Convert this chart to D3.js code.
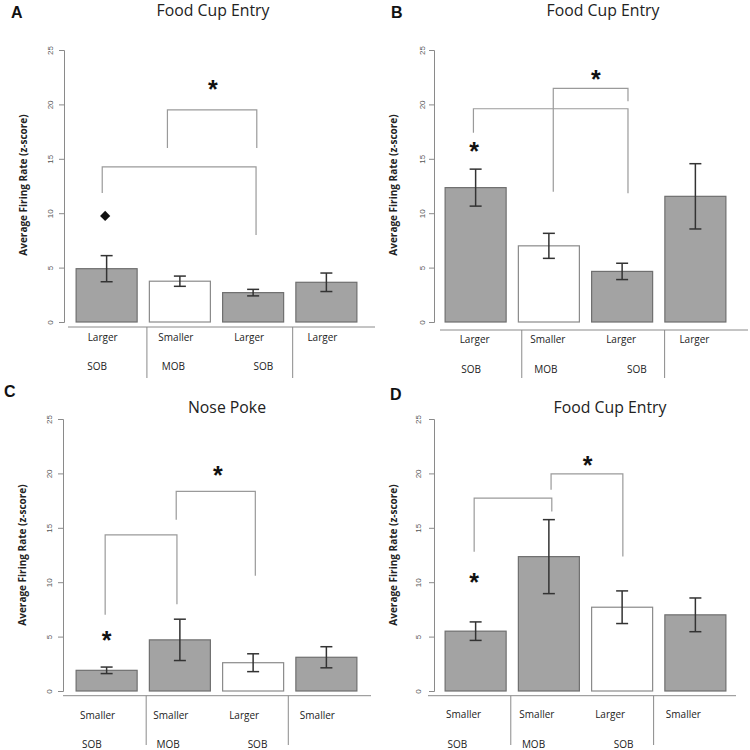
<!DOCTYPE html>
<html><head><meta charset="utf-8">
<script src="https://cdn.jsdelivr.net/npm/d3@7"></script>
<style>html,body{margin:0;padding:0;background:#fff;}</style>
</head><body><svg id="chart" width="750" height="750"></svg>
<script>
// ---------- data ----------
const panelLetters = ["A", "B", "C", "D"];
const titles = ["Food Cup Entry", "Food Cup Entry", "Nose Poke", "Food Cup Entry"];
const sizeLabelsA = ["Larger", "Smaller", "Larger", "Larger"];
const sizeLabelsB = ["Larger", "Smaller", "Larger", "Larger"];
const sizeLabelsC = ["Smaller", "Smaller", "Larger", "Smaller"];
const sizeLabelsD = ["Smaller", "Smaller", "Larger", "Smaller"];
const groupLabels = ["SOB", "MOB", "SOB"];
const meansA = [4.9, 3.75, 2.7, 3.65];
const errA   = [1.2, 0.47, 0.3, 0.85];
const meansB = [12.35, 7.0, 4.65, 11.55];
const errB   = [1.7, 1.15, 0.75, 3.0];
const meansC = [1.9, 4.7, 2.6, 3.1];
const errC   = [0.3, 1.9, 0.82, 0.97];
const meansD = [5.5, 12.35, 7.7, 7.0];
const errD   = [0.85, 3.4, 1.5, 1.55];
const whiteBar = [1, 1, 2, 2];        // index of the open (white) bar in each panel
const yTicks = [0, 5, 10, 15, 20, 25];
// brackets: [fromCat, toCat, topValue, leftEndValue, rightEndValue]
const bracketsA = [[0.83, 2.05, 19.5, 16.0, 16.0], [-0.06, 2.04, 14.25, 11.85, 8.0]];
const bracketsB = [[1.06, 2.08, 21.48, 11.98, 20.3], [-0.03, 2.08, 19.6, 17.4, 11.83]];
const bracketsC = [[0.95, 2.03, 18.34, 15.73, 10.6], [-0.02, 0.96, 14.35, 7.0, 7.98]];
const bracketsD = [[1.03, 2.01, 19.96, 18.5, 12.36], [-0.02, 1.04, 17.73, 12.8, 16.5]];
// significance markers: [category, value]
const starsA = [[1.45, 21.6]];
const starsB = [[1.64, 22.5], [-0.02, 15.9]];
const starsC = [[1.52, 20.05], [0.0, 4.85]];
const starsD = [[1.53, 20.97], [-0.02, 10.2]];
const diamondsA = [[-0.02, 9.75]];
const diamondsB = [], diamondsC = [], diamondsD = [];

// ---------- layout ----------
const layout = [
  {ax: 64,  y0: 322, y25: 50,  bx0: 70,  bx1: 363, xAxisY: 327, xAxisX0: 68,  xAxisX1: 375, divEnd: 378,
   dividers: [0.55, 2.54], lblShift: -4, lblY: 341, grpPos: [-0.13, 0.91, 2.14], grpY: 370,
   tickX: 50, ylabX: 23, ylabY: 185, titleX: 213, titleY: 16, letX: 11, letY: 18},
  {ax: 434, y0: 322, y25: 50,  bx0: 439, bx1: 732, xAxisY: 330, xAxisX0: 440, xAxisX1: 748, divEnd: 378,
   dividers: [0.63, 2.58], lblShift: -1, lblY: 343, grpPos: [-0.06, 0.96, 2.2], grpY: 373,
   tickX: 422, ylabX: 393, ylabY: 185, titleX: 603, titleY: 16, letX: 391, letY: 18},
  {ax: 63,  y0: 691, y25: 419, bx0: 70,  bx1: 363, xAxisY: 695.7, xAxisX0: 63, xAxisX1: 371, divEnd: 745,
   dividers: [0.54, 2.48], lblShift: -9, lblY: 719, grpPos: [-0.2, 0.84, 2.06], grpY: 748,
   tickX: 49, ylabX: 22, ylabY: 555, titleX: 227, titleY: 413, letX: 4, letY: 397},
  {ax: 434, y0: 691, y25: 419, bx0: 439, bx1: 732, xAxisY: 695.7, xAxisX0: 428, xAxisX1: 736, divEnd: 745,
   dividers: [0.48, 2.43], lblShift: -12, lblY: 718, grpPos: [-0.25, 0.79, 2.02], grpY: 748,
   tickX: 418, ylabX: 393, ylabY: 555, titleX: 610, titleY: 413, letX: 390, letY: 400}
];

const panels = [
  {means: meansA, err: errA, labels: sizeLabelsA, brackets: bracketsA, stars: starsA, diamonds: diamondsA},
  {means: meansB, err: errB, labels: sizeLabelsB, brackets: bracketsB, stars: starsB, diamonds: diamondsB},
  {means: meansC, err: errC, labels: sizeLabelsC, brackets: bracketsC, stars: starsC, diamonds: diamondsC},
  {means: meansD, err: errD, labels: sizeLabelsD, brackets: bracketsD, stars: starsD, diamonds: diamondsD}
];

const svg = d3.select("#chart");
const FONT = "'Open Sans', sans-serif";
const BAR_FILL = "#a3a3a3", BAR_STROKE = "#6f6f6f";
const AXIS_COL = "#8a8a8a", BRACKET_COL = "#9a9a9a";

panels.forEach((p, pi) => {
  const L = layout[pi];
  const g = svg.append("g");
  const idx = d3.range(p.means.length);
  const x = d3.scaleBand().domain(idx).range([L.bx0, L.bx1]).paddingInner(0.167).paddingOuter(0.0835);
  const y = d3.scaleLinear().domain([0, 25]).range([L.y0, L.y25]);
  const c0 = x(0) + x.bandwidth() / 2, c3 = x(3) + x.bandwidth() / 2;
  const xc = d3.scaleLinear().domain([0, 3]).range([c0, c3]);

  // panel letter & title
  g.append("text").attr("x", L.letX).attr("y", L.letY).text(panelLetters[pi])
    .attr("font-family", "'Liberation Sans', Arial, sans-serif").attr("font-weight", "bold")
    .attr("font-size", 16).attr("fill", "#111");
  g.append("text").attr("x", L.titleX).attr("y", L.titleY).text(titles[pi])
    .attr("text-anchor", "middle").attr("font-family", FONT).attr("font-size", 15.8).attr("fill", "#222");

  // y axis (R style)
  const yAxis = d3.axisLeft(y).tickValues(yTicks).tickSize(5).tickPadding(3).tickFormat(d3.format("d"));
  const ya = g.append("g").attr("transform", `translate(${L.ax},0)`).call(yAxis);
  ya.select(".domain").attr("stroke", AXIS_COL);
  ya.selectAll(".tick line").attr("stroke", AXIS_COL);
  ya.selectAll(".tick text").remove();
  ya.selectAll(".tick").append("text")
    .attr("transform", `translate(${L.tickX - L.ax},0) rotate(-90)`)
    .attr("text-anchor", "middle").attr("dy", "0.35em")
    .attr("font-family", "'Liberation Sans', Arial, sans-serif").attr("font-size", 8).attr("fill", "#555")
    .text(d => d);

  g.append("text").attr("transform", `translate(${L.ylabX},${L.ylabY}) rotate(-90)`)
    .attr("text-anchor", "middle").attr("dy", "0.35em")
    .attr("font-family", FONT).attr("font-weight", "bold").attr("font-size", 10).attr("fill", "#222")
    .text("Average Firing Rate (z-score)");

  // bars
  g.selectAll("rect.bar").data(idx).join("rect").attr("class", "bar")
    .attr("x", i => x(i)).attr("width", x.bandwidth())
    .attr("y", i => y(p.means[i])).attr("height", i => y(0) - y(p.means[i]))
    .attr("fill", i => i === whiteBar[pi] ? "#fff" : BAR_FILL)
    .attr("stroke", i => i === whiteBar[pi] ? "#8a8a8a" : BAR_STROKE).attr("stroke-width", 1.2);

  // error bars
  const eb = g.selectAll("g.eb").data(idx).join("g").attr("class", "eb")
    .attr("stroke", "#333").attr("stroke-width", 1.5);
  const cx = i => x(i) + x.bandwidth() / 2;
  eb.append("line").attr("x1", cx).attr("x2", cx)
    .attr("y1", i => y(p.means[i] + p.err[i])).attr("y2", i => y(p.means[i] - p.err[i]));
  eb.append("line").attr("x1", i => cx(i) - 6).attr("x2", i => cx(i) + 6)
    .attr("y1", i => y(p.means[i] + p.err[i])).attr("y2", i => y(p.means[i] + p.err[i]));
  eb.append("line").attr("x1", i => cx(i) - 6).attr("x2", i => cx(i) + 6)
    .attr("y1", i => y(p.means[i] - p.err[i])).attr("y2", i => y(p.means[i] - p.err[i]));

  // x axis line and dividers
  g.append("line").attr("x1", L.xAxisX0).attr("x2", L.xAxisX1).attr("y1", L.xAxisY).attr("y2", L.xAxisY)
    .attr("stroke", AXIS_COL).attr("stroke-width", 1);
  g.selectAll("line.div").data(L.dividers).join("line").attr("class", "div")
    .attr("x1", d => xc(d)).attr("x2", d => xc(d)).attr("y1", L.xAxisY).attr("y2", L.divEnd)
    .attr("stroke", AXIS_COL).attr("stroke-width", 1);

  // category labels
  g.selectAll("text.cat").data(idx).join("text").attr("class", "cat")
    .attr("x", i => cx(i) + L.lblShift).attr("y", L.lblY).attr("text-anchor", "middle")
    .attr("font-family", FONT).attr("font-size", 10).attr("fill", "#222").text(i => p.labels[i]);
  g.selectAll("text.grp").data(groupLabels).join("text").attr("class", "grp")
    .attr("x", (d, i) => xc(L.grpPos[i])).attr("y", L.grpY).attr("text-anchor", "middle")
    .attr("font-family", FONT).attr("font-size", 10).attr("fill", "#222").text(d => d);

  // brackets
  g.selectAll("path.br").data(p.brackets).join("path").attr("class", "br")
    .attr("d", b => `M${xc(b[0])},${y(b[3])}V${y(b[2])}H${xc(b[1])}V${y(b[4])}`)
    .attr("fill", "none").attr("stroke", BRACKET_COL).attr("stroke-width", 1.2);

  // stars
  g.selectAll("text.star").data(p.stars).join("text").attr("class", "star")
    .attr("x", s => xc(s[0])).attr("y", s => y(s[1]) + 11).attr("text-anchor", "middle")
    .attr("font-family", "'Liberation Sans', Arial, sans-serif").attr("font-weight", "bold")
    .attr("font-size", 25).attr("fill", "#111").text("*");

  // diamonds (square rotated 45 degrees)
  g.selectAll("path.dia").data(p.diamonds).join("path").attr("class", "dia")
    .attr("transform", s => `translate(${xc(s[0])},${y(s[1])}) rotate(45)`)
    .attr("d", d3.symbol(d3.symbolSquare, 52)()).attr("fill", "#111");
});
</script>
</body></html>
